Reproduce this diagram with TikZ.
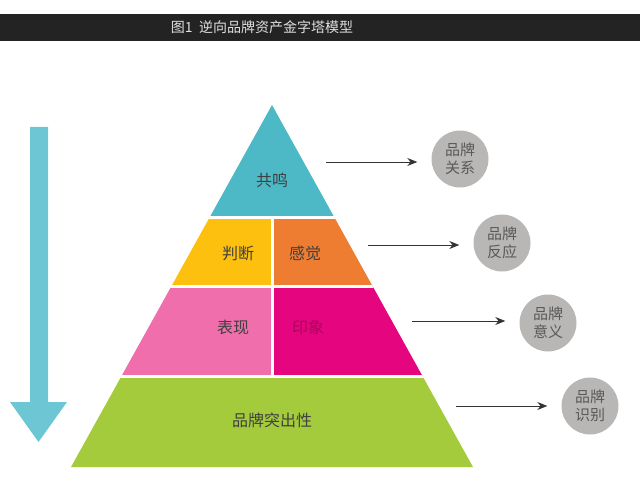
\documentclass[tikz,border=0pt]{standalone}
\usepackage{fontspec}
\setmainfont{Noto Sans CJK SC}
\usepackage{xcolor}
\usetikzlibrary{arrows.meta}
\definecolor{titlebar}{HTML}{232324}
\definecolor{downarrow}{HTML}{6CC6D4}
\definecolor{resonance}{HTML}{4DB9C6}
\definecolor{judgement}{HTML}{FDC00F}
\definecolor{feeling}{HTML}{EE7D31}
\definecolor{performance}{HTML}{EF6EAB}
\definecolor{imagery}{HTML}{E5057E}
\definecolor{salience}{HTML}{A3CB3B}
\definecolor{bubble}{HTML}{B8B7B6}

\begin{document}
\begin{tikzpicture}[x=1pt,y=-1pt,
  lbl/.style={font=\fontsize{16}{18}\selectfont,text=black!75},
  brand/.style={circle,fill=bubble,minimum size=57pt,inner sep=0pt,align=center,
    font=\fontsize{15}{18}\selectfont,text=black!65},
  link/.style={-{Stealth[length=10pt,width=8pt]},line width=0.8pt,black!80,shorten >=14pt}]
\useasboundingbox (0,0) rectangle (640,492);
\fill[titlebar] (0,14) rectangle (640,41);
\node[text=gray!25,font=\fontsize{14}{16}\selectfont] (title) at (262,27.5) {图1\ \ 逆向品牌资产金字塔模型};
\fill[downarrow] (30,127) -- (48,127) -- (48,402) -- (67,402) -- (38.5,442) -- (10,402) -- (30,402) -- cycle;
\begin{scope}
\clip (272,105) -- (473,467) -- (71,467) -- cycle;
\fill[resonance] (60,100) rectangle (480,217.5);
\fill[judgement] (60,217.5) rectangle (272,286.5);
\fill[feeling] (272,217.5) rectangle (480,286.5);
\fill[performance] (60,286.5) rectangle (272,376.5);
\fill[imagery] (272,286.5) rectangle (480,376.5);
\fill[salience] (60,376.5) rectangle (480,470);
\draw[white,line width=3pt] (60,217.5) -- (480,217.5) (60,286.5) -- (480,286.5)
  (60,376.5) -- (480,376.5) (272,217.5) -- (272,376.5);
\end{scope}
\node[lbl] (gm) at (272,180) {共鸣};
\node[lbl] (pd) at (238,253) {判断};
\node[lbl] (gj) at (305,253) {感觉};
\node[lbl] (bx) at (233,327) {表现};
\node[lbl,text=black!25!imagery] (yx) at (308,327) {印象};
\node[lbl] (tcx) at (272,420) {品牌突出性};
\node[brand] (gx) at (460,159) {品牌\\关系};
\node[brand] (fy) at (502,243) {品牌\\反应};
\node[brand] (yy) at (548,323) {品牌\\意义};
\node[brand] (sb) at (590,406) {品牌\\识别};
\coordinate (a1) at (326,162);
\coordinate (a2) at (368,245);
\coordinate (a3) at (412,321);
\coordinate (a4) at (456,406);
\draw[link] (a1) -- (a1 -| gx.west);
\draw[link] (a2) -- (a2 -| fy.west);
\draw[link] (a3) -- (a3 -| yy.west);
\draw[link] (a4) -- (a4 -| sb.west);
\end{tikzpicture}
\end{document}
